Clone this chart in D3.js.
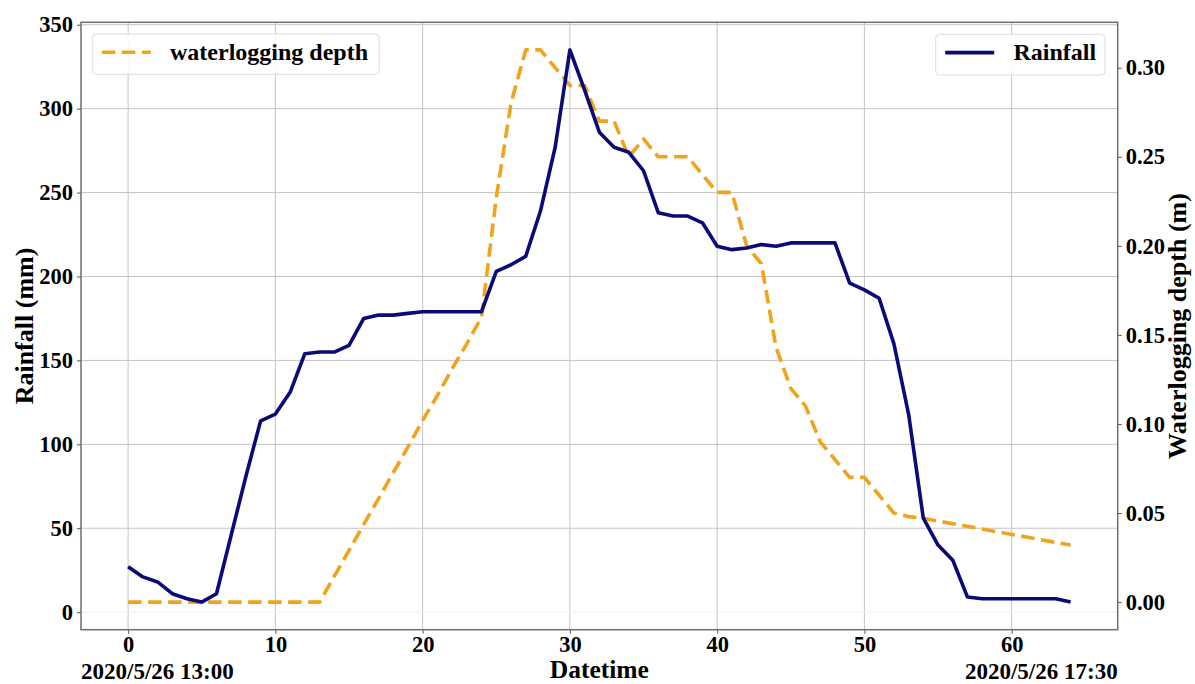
<!DOCTYPE html>
<html>
<head>
<meta charset="utf-8">
<script src="https://cdn.jsdelivr.net/npm/d3@7"></script>
<style>
  html, body { margin: 0; padding: 0; background: #fff; }
  svg { display: block; font-family: "Liberation Serif", "Times New Roman", serif; font-weight: bold; }
</style>
</head>
<body>
<svg id="chart" width="1195" height="684"></svg>
<script>
// ---- data ----
const steps = d3.range(0, 65); // time step index 0..64
const rainfall = [27, 21, 18, 11, 8, 6, 11, 46, 81, 114,
  118, 131, 154, 155, 155, 159, 175, 177, 177, 178,
  179, 179, 179, 179, 179, 203, 207, 212, 239, 277,
  335, 311, 286, 277, 274, 263, 238, 236, 236, 232,
  218, 216, 217, 219, 218, 220, 220, 220, 220, 196,
  192, 187, 160, 118, 56, 40, 31, 9, 8, 8,
  8, 8, 8, 8, 6];
const depth = [0, 0, 0, 0, 0, 0, 0, 0, 0, 0,
  0, 0, 0, 0, 0.0145, 0.029, 0.0436, 0.058, 0.0727, 0.087,
  0.102, 0.116, 0.131, 0.145, 0.16, 0.227, 0.28, 0.31, 0.31, 0.30,
  0.29, 0.29, 0.27, 0.27, 0.25, 0.26, 0.25, 0.25, 0.25, 0.24,
  0.23, 0.23, 0.20, 0.19, 0.143, 0.12, 0.11, 0.09, 0.08, 0.07,
  0.07, 0.06, 0.05, 0.048, 0.047, 0.0455, 0.044, 0.0425, 0.041, 0.0395,
  0.038, 0.0365, 0.035, 0.0335, 0.032];
const xTicks = [0, 10, 20, 30, 40, 50, 60];
const yLeftTicks = [0, 50, 100, 150, 200, 250, 300, 350];
const yRightTicks = [0, 0.05, 0.10, 0.15, 0.20, 0.25, 0.30];
const startLabel = "2020/5/26 13:00";
const endLabel = "2020/5/26 17:30";
const xTitle = "Datetime";
const yLeftTitle = "Rainfall (mm)";
const yRightTitle = "Waterlogging depth (m)";
const legendRain = "Rainfall";
const legendDepth = "waterlogging depth";

// ---- layout ----
const L = 81, R = 1117.7, T = 22.3, B = 629.7;
const svg = d3.select("#chart");

const x = d3.scaleLinear().domain([-3.2, 67.2]).range([L, R]);
const yL = d3.scaleLinear().domain([-10.45, 351.45]).range([B, T]);
const yR = d3.scaleLinear().domain([-0.0155, 0.3255]).range([B, T]);

const navy = "#0b0b78";
const orange = "#f0a31c";

// grid
const grid = svg.append("g");
grid.selectAll("line.gx").data(xTicks).join("line")
  .attr("x1", d => x(d)).attr("x2", d => x(d))
  .attr("y1", T).attr("y2", B)
  .attr("stroke", "#c4c4c4").attr("stroke-width", 1);
grid.selectAll("line.gy").data(yLeftTicks).join("line")
  .attr("x1", L).attr("x2", R)
  .attr("y1", d => yL(d)).attr("y2", d => yL(d))
  .attr("stroke", d => d === 0 ? "#efefef" : "#c4c4c4").attr("stroke-width", 1);

// axes
const fs = 22.5;
const axB = svg.append("g").attr("transform", `translate(0,${B})`)
  .call(d3.axisBottom(x).tickValues(xTicks).tickSize(4).tickPadding(3).tickFormat(d3.format("d")));
const axL = svg.append("g").attr("transform", `translate(${L},0)`)
  .call(d3.axisLeft(yL).tickValues(yLeftTicks).tickSize(4).tickPadding(4).tickFormat(d3.format("d")));
const axR = svg.append("g").attr("transform", `translate(${R},0)`)
  .call(d3.axisRight(yR).tickValues(yRightTicks).tickSize(4).tickPadding(4).tickFormat(d3.format(".2f")));
[axB, axL, axR].forEach(g => {
  g.select(".domain").remove();
  g.selectAll(".tick line").attr("stroke", "#555").attr("stroke-width", 1);
  g.selectAll(".tick text").attr("font-family", "Liberation Serif").attr("font-weight", "bold")
    .attr("font-size", fs).attr("fill", "#000");
});
axB.selectAll(".tick text").attr("dy", "0.7em");

// lines
const lineRain = d3.line().x((d, i) => x(steps[i])).y(d => yL(d)).curve(d3.curveLinear);
const lineDepth = d3.line().x((d, i) => x(steps[i])).y(d => yR(d)).curve(d3.curveLinear);

svg.append("path").datum(depth).attr("d", lineDepth)
  .attr("fill", "none").attr("stroke", orange).attr("stroke-width", 3.6)
  .attr("stroke-dasharray", "13.5,6.5").attr("stroke-linejoin", "round");
svg.append("path").datum(rainfall).attr("d", lineRain)
  .attr("fill", "none").attr("stroke", navy).attr("stroke-width", 3.6)
  .attr("stroke-linejoin", "round");

// spines
svg.append("rect").attr("x", L).attr("y", T).attr("width", R - L).attr("height", B - T)
  .attr("fill", "none").attr("stroke", "#6e6e6e").attr("stroke-width", 1.5);

// legends
function legend(x0, y0, w, h, dashed, color, label) {
  const g = svg.append("g");
  g.append("rect").attr("x", x0).attr("y", y0).attr("width", w).attr("height", h)
    .attr("rx", 4).attr("fill", "#fff").attr("fill-opacity", 0.85)
    .attr("stroke", "#dcdcdc").attr("stroke-width", 1);
  g.append("line").attr("x1", x0 + 9.5).attr("x2", x0 + 58.5)
    .attr("y1", y0 + 18.3).attr("y2", y0 + 18.3)
    .attr("stroke", color).attr("stroke-width", 3.6)
    .attr("stroke-dasharray", dashed ? "13.5,6.5" : null);
  g.append("text").attr("x", x0 + 77.7).attr("y", y0 + 26)
    .attr("font-size", 24).attr("font-weight", "bold").attr("fill", "#000").text(label);
}
legend(92.3, 34, 287, 40.3, true, orange, legendDepth);
legend(935.7, 34.3, 169.3, 40.7, false, navy, legendRain);

// axis titles
svg.append("text").attr("x", (L + R) / 2).attr("y", 678).attr("text-anchor", "middle")
  .attr("font-size", 25.5).text(xTitle);
svg.append("text").attr("transform", `translate(33,${(T + B) / 2}) rotate(-90)`)
  .attr("text-anchor", "middle").attr("font-size", 26).text(yLeftTitle);
svg.append("text").attr("transform", `translate(1186,${(T + B) / 2}) rotate(-90)`)
  .attr("text-anchor", "middle").attr("font-size", 26).text(yRightTitle);

// start / end datetime labels
svg.append("text").attr("x", L).attr("y", 679).attr("text-anchor", "start")
  .attr("font-size", 23).text(startLabel);
svg.append("text").attr("x", R).attr("y", 679).attr("text-anchor", "end")
  .attr("font-size", 23).text(endLabel);
</script>
</body>
</html>
